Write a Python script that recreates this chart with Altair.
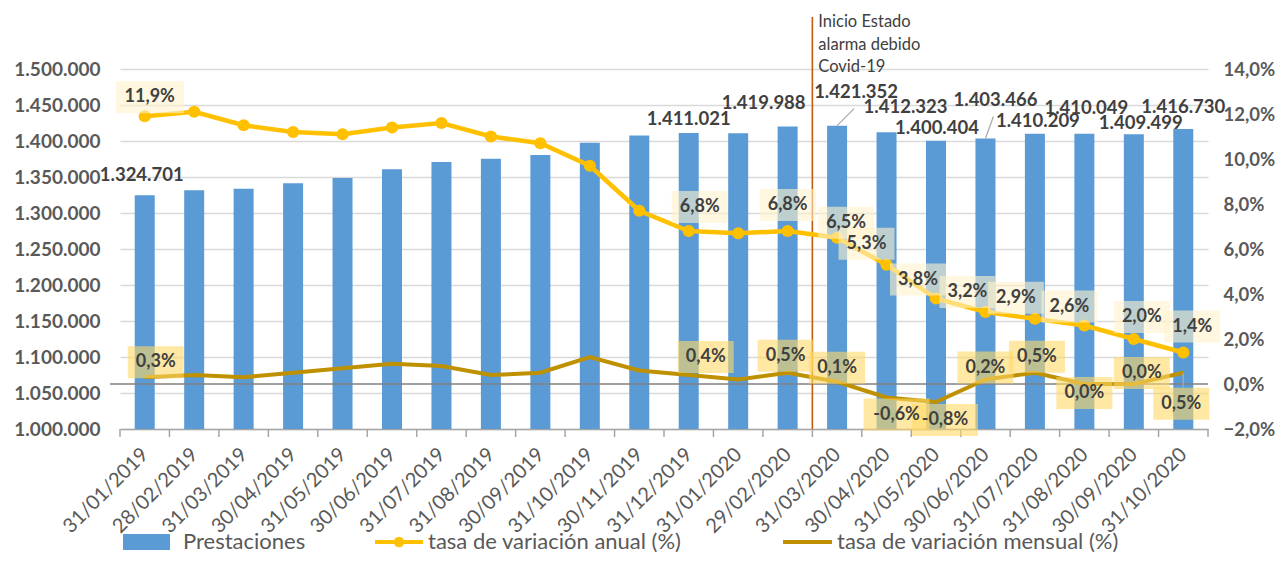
import altair as alt
import pandas as pd

# ---------------- data ----------------
fechas = ["31/01/2019", "28/02/2019", "31/03/2019", "30/04/2019", "31/05/2019",
          "30/06/2019", "31/07/2019", "31/08/2019", "30/09/2019", "31/10/2019",
          "30/11/2019", "31/12/2019", "31/01/2020", "29/02/2020", "31/03/2020",
          "30/04/2020", "31/05/2020", "30/06/2020", "31/07/2020", "31/08/2020",
          "30/09/2020", "31/10/2020"]
prestaciones = [1324701, 1331500, 1333800, 1341200, 1348500, 1360600, 1370700,
                1375400, 1380400, 1397600, 1407800, 1411021, 1410800, 1419988,
                1421352, 1412323, 1400404, 1403466, 1410209, 1410049, 1409499,
                1416730]
tasa_anual = [11.9, 12.1, 11.5, 11.2, 11.1, 11.4, 11.6, 11.0, 10.7, 9.7, 7.7,
              6.8, 6.7, 6.8, 6.5, 5.3, 3.8, 3.2, 2.9, 2.6, 2.0, 1.4]
tasa_mensual = [0.3, 0.4, 0.3, 0.5, 0.7, 0.9, 0.8, 0.4, 0.5, 1.2, 0.6, 0.4, 0.2,
                0.5, 0.1, -0.6, -0.8, 0.2, 0.5, 0.0, 0.0, 0.5]
etiquetados = [0, 11, 13, 14, 15, 16, 17, 18, 19, 20, 21]
y_izq_ticks = [1000000 + 50000 * k for k in range(11)]
y_der_ticks = [-2, 0, 2, 4, 6, 8, 10, 12, 14]
anotacion = ["Inicio Estado", "alarma debido", "Covid-19"]
leyenda = ["Prestaciones", "tasa de variación anual (%)", "tasa de variación mensual (%)"]

# ---------------- label placement (pixel offsets, style only) ----------------
off_barra = {0: (-3, -20), 11: (0, -14), 13: (-24, -24), 14: (19, -34), 15: (19, -25),
             16: (1, -13), 17: (10, -39), 18: (3, -13), 19: (2, -26), 20: (7, -11), 21: (0, -22)}
off_anual = {0: (5, -19), 11: (11, -24), 13: (0, -26), 14: (9, -15), 15: (-20, -21),
             16: (-18, -19), 17: (-18, -20), 18: (-19, -21), 19: (-15, -19), 20: (8, -22), 21: (9, -26)}
off_mensual = {0: (11, -15), 11: (17, -18), 13: (-2, -17), 14: (0, -14), 15: (10, 17),
               16: (9, 18), 17: (0, -12), 18: (2, -16), 19: (0, 9), 20: (8, -11), 21: (-2, 31)}
guias_barra = [14, 17]
guias_mensual = [21]

W, H = 1088, 360
PX_X = W / 22.0
PX_L = H / 500000.0
PX_R = H / 16.0

C_BAR = "#5B9BD5"
C_ANUAL = "#FFC000"
C_MENS = "#BF9000"
FONT = "Lato"


def fmt_miles(v):
    return f"{v:,}".replace(",", ".")


def fmt_pct(v):
    return f"{v:.1f}".replace(".", ",") + "%"


df = pd.DataFrame({"i": list(range(len(fechas))), "fecha": fechas,
                   "prest": prestaciones, "anual": tasa_anual, "mensual": tasa_mensual})
df["x0"] = df["i"] - 10 / PX_X
df["x1"] = df["i"] + 10 / PX_X

bar_lab, an_lab, me_lab, guia_b, guia_m = [], [], [], [], []
for i in etiquetados:
    dx, dy = off_barra[i]
    v = prestaciones[i]
    lx, ly = i + dx / PX_X, v - dy / PX_L
    bar_lab.append({"lx": lx, "ly": ly, "t": fmt_miles(v)})
    if i in guias_barra:
        guia_b.append({"xa": i, "ya": v, "xb": lx - 2 / PX_X, "yb": ly - 17 / PX_L})

    dx, dy = off_anual[i]
    v = tasa_anual[i]
    t = fmt_pct(v)
    w = 56 if len(t) <= 4 else 68
    lx, ly = i + dx / PX_X, v - dy / PX_R
    an_lab.append({"lx": lx, "ly": ly, "t": t,
                   "bx0": lx - w / 2 / PX_X, "bx1": lx + w / 2 / PX_X,
                   "by0": ly - 16 / PX_R, "by1": ly + 16 / PX_R})

    dx, dy = off_mensual[i]
    v = tasa_mensual[i]
    t = fmt_pct(v)
    w = 56 if len(t) <= 4 else 66
    lx, ly = i + dx / PX_X, v - dy / PX_R
    me_lab.append({"lx": lx, "ly": ly, "t": t,
                   "bx0": lx - w / 2 / PX_X, "bx1": lx + w / 2 / PX_X,
                   "by0": ly - 16 / PX_R, "by1": ly + 16 / PX_R})
    if i in guias_mensual:
        guia_m.append({"xa": i, "ya": v, "yb": ly + 16 / PX_R})

bar_lab = pd.DataFrame(bar_lab)
an_lab = pd.DataFrame(an_lab)
me_lab = pd.DataFrame(me_lab)
guia_b = pd.DataFrame(guia_b)
guia_m = pd.DataFrame(guia_m)
limites = pd.DataFrame({"b": [k - 0.5 for k in range(len(fechas) + 1)]})

# ---------------- scales / axes ----------------
x_scale = alt.Scale(domain=[-0.5, len(fechas) - 0.5], nice=False, zero=False)
x_labels = "[" + ",".join(f"'{f}'" for f in fechas) + "][datum.value]"
x_axis = alt.Axis(values=list(range(len(fechas))), labelExpr=x_labels, title=None,
                  labelAngle=-45, labelAlign="right", labelBaseline="middle",
                  ticks=False, grid=False, domain=True, domainColor="#A6A6A6",
                  domainWidth=1.5, labelFont=FONT, labelFontSize=20,
                  labelColor="#595959", labelPadding=22, labelOverlap=False)

yl_scale = alt.Scale(domain=[1000000, 1500000], nice=False, zero=False)
yl_axis = alt.Axis(values=y_izq_ticks, title=None, grid=True, gridColor="#D9D9D9",
                   gridWidth=1.3, ticks=False, domain=False,
                   labelExpr="replace(replace(format(datum.value, ','), ',', '.'), ',', '.')",
                   labelFont=FONT, labelFontSize=19, labelFontWeight="bold",
                   labelColor="#595959", labelPadding=20)

yr_scale = alt.Scale(domain=[-2, 14], nice=False, zero=False)
yr_axis = alt.Axis(values=y_der_ticks, title=None, grid=False, ticks=False, domain=False,
                   orient="right",
                   labelExpr="replace(format(datum.value, '.1f'), '.', ',') + '%'",
                   labelFont=FONT, labelFontSize=18.5, labelFontWeight="bold",
                   labelColor="#595959", labelPadding=15)


def xq(f):
    return alt.X(f, type="quantitative", scale=x_scale, axis=x_axis)


def yl(f):
    return alt.Y(f, type="quantitative", scale=yl_scale, axis=yl_axis)


def yr(f):
    return alt.Y(f, type="quantitative", scale=yr_scale, axis=yr_axis)


# ---------------- left (bars) ----------------
bars = alt.Chart(df).mark_bar(color=C_BAR).encode(
    x=xq("x0"), x2="x1", y=yl("prest"), y2=alt.datum(1000000))

ticks = alt.Chart(limites).mark_rule(color="#A6A6A6", strokeWidth=1.5).encode(
    x=xq("b"), y=alt.value(H), y2=alt.value(H + 8))

bar_text = alt.Chart(bar_lab).mark_text(font=FONT, fontSize=18.5, fontWeight="bold",
                                        color="#404040", align="center",
                                        baseline="middle").encode(
    x=xq("lx"), y=yl("ly"), text="t:N")

bar_guides = alt.Chart(guia_b).mark_rule(color="#A6A6A6", strokeWidth=1.2).encode(
    x=xq("xa"), x2="xb", y=yl("ya"), y2="yb")

left = alt.layer(bars, ticks, bar_guides, bar_text)

# ---------------- right (rates) ----------------
zero_line = alt.Chart(pd.DataFrame({"z": [0]})).mark_rule(
    color="#808080", strokeWidth=1.5).encode(
    y=yr("z"), x=alt.value(-10), x2=alt.value(W))

covid = alt.Chart(pd.DataFrame({"b": [13.5]})).mark_rule(
    color="#C55A11", strokeWidth=1.6).encode(
    x=xq("b"), y=alt.value(-52), y2=alt.value(H))

covid_txt = alt.Chart(pd.DataFrame({"b": [13.5]})).mark_text(
    text=anotacion, font=FONT, fontSize=16.5, color="#404040", align="left",
    baseline="alphabetic", lineHeight=22.5, dx=6).encode(
    x=xq("b"), y=alt.value(-42))

line_m = alt.Chart(df).mark_line(color=C_MENS, strokeWidth=4).encode(
    x=xq("i"), y=yr("mensual"))

line_a = alt.Chart(df).mark_line(color=C_ANUAL, strokeWidth=4.5).encode(
    x=xq("i"), y=yr("anual"))

pts_a = alt.Chart(df).mark_point(filled=True, color=C_ANUAL, size=150, opacity=1,
                                 shape="circle").encode(
    x=xq("i"), y=yr("anual"))

guide_m = alt.Chart(guia_m).mark_rule(color="#A6A6A6", strokeWidth=1.5).encode(
    x=xq("xa"), y=yr("ya"), y2="yb")

box_a = alt.Chart(an_lab).mark_rect(color="#FFF2CC", opacity=0.6).encode(
    x=xq("bx0"), x2="bx1", y=yr("by0"), y2="by1")
box_m = alt.Chart(me_lab).mark_rect(color="#FFD966", opacity=0.6).encode(
    x=xq("bx0"), x2="bx1", y=yr("by0"), y2="by1")

txt_a = alt.Chart(an_lab).mark_text(font=FONT, fontSize=18, fontWeight="bold",
                                    color="#404040", align="center",
                                    baseline="middle").encode(
    x=xq("lx"), y=yr("ly"), text="t:N")
txt_m = alt.Chart(me_lab).mark_text(font=FONT, fontSize=18, fontWeight="bold",
                                    color="#404040", align="center",
                                    baseline="middle").encode(
    x=xq("lx"), y=yr("ly"), text="t:N")

# ---------------- legend ----------------
one = pd.DataFrame({"k": [0]})
LY = 473
LB = 480
leg_rect = alt.Chart(one).mark_rect(color=C_BAR).encode(
    x=alt.value(3), x2=alt.value(50), y=alt.value(LY - 8), y2=alt.value(LY + 8))
leg_t1 = alt.Chart(one).mark_text(text=leyenda[0], font=FONT, fontSize=22,
                                  color="#595959", align="left", baseline="alphabetic").encode(
    x=alt.value(63), y=alt.value(LB))
leg_l2 = alt.Chart(one).mark_rule(color=C_ANUAL, strokeWidth=4).encode(
    x=alt.value(255), x2=alt.value(303), y=alt.value(LY))
leg_p2 = alt.Chart(one).mark_point(filled=True, color=C_ANUAL, size=110, opacity=1).encode(
    x=alt.value(279), y=alt.value(LY))
leg_t2 = alt.Chart(one).mark_text(text=leyenda[1], font=FONT, fontSize=22,
                                  color="#595959", align="left", baseline="alphabetic").encode(
    x=alt.value(308), y=alt.value(LB))
leg_l3 = alt.Chart(one).mark_rule(color=C_MENS, strokeWidth=4).encode(
    x=alt.value(663), x2=alt.value(712), y=alt.value(LY))
leg_t3 = alt.Chart(one).mark_text(text=leyenda[2], font=FONT, fontSize=22,
                                  color="#595959", align="left", baseline="alphabetic").encode(
    x=alt.value(717), y=alt.value(LB))

right = alt.layer(zero_line, covid, covid_txt, line_m, line_a, pts_a, guide_m,
                  box_a, box_m, txt_a, txt_m,
                  leg_rect, leg_t1, leg_l2, leg_p2, leg_t2, leg_l3, leg_t3)

chart = alt.layer(left, right).resolve_scale(y="independent").properties(
    width=W, height=H,
    autosize=alt.AutoSizeParams(type="none"),
    padding={"left": 112, "top": 61, "right": 67, "bottom": 126},
    background="white",
).configure_view(stroke=None)

chart.save("out.html", embed_options={"renderer": "svg", "actions": False})
